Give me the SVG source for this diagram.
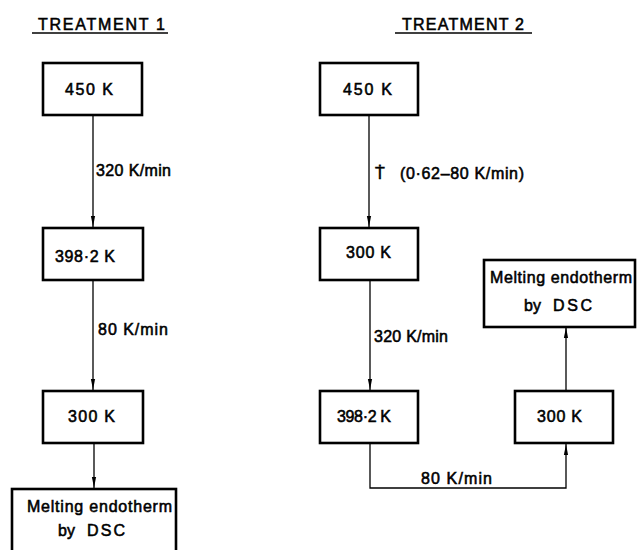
<svg xmlns="http://www.w3.org/2000/svg" width="637" height="550" viewBox="0 0 637 550">
<defs>
<style>
.box{fill:#fff;stroke:#000;stroke-width:2.6}
.ln{fill:none;stroke:#000;stroke-width:1.3}
.t{font-family:"Liberation Sans",Arial,sans-serif;font-size:16px;fill:#000;stroke:#000;stroke-width:0.55}
.u{stroke:#000;stroke-width:1.3}
</style>
<marker id="ah" markerWidth="12" markerHeight="6" refX="11" refY="3" orient="auto" markerUnits="userSpaceOnUse" viewBox="0 0 12 6">
<path d="M0,0.9 L11,3 L0,5.1 Z" fill="#000"/>
</marker>
</defs>
<rect width="637" height="550" fill="#fff"/>
<g id="titles">
<text class="t" x="38" y="30" textLength="127" lengthAdjust="spacing">TREATMENT 1</text>
<line class="u" x1="32" y1="33" x2="168" y2="33"/>
<text class="t" x="402" y="30" textLength="122" lengthAdjust="spacing">TREATMENT 2</text>
<line class="u" x1="395" y1="33" x2="532" y2="33"/>
</g>
<g id="connectors">
<line class="ln" x1="93" y1="115" x2="93" y2="227" marker-end="url(#ah)"/>
<line class="ln" x1="93" y1="280" x2="93" y2="390" marker-end="url(#ah)"/>
<line class="ln" x1="94" y1="443" x2="94" y2="488" marker-end="url(#ah)"/>
<line class="ln" x1="369" y1="115" x2="369" y2="227" marker-end="url(#ah)"/>
<line class="ln" x1="370" y1="280" x2="370" y2="390" marker-end="url(#ah)"/>
<polyline class="ln" points="370,443 370,488 566,488 566,444" marker-end="url(#ah)"/>
<line class="ln" x1="566" y1="391" x2="566" y2="327" marker-end="url(#ah)"/>
<text class="t" x="96" y="176" textLength="75" lengthAdjust="spacing">320 K/min</text>
<text class="t" x="98" y="335" textLength="70" lengthAdjust="spacing">80 K/min</text>
<text class="t" x="375" y="179">Ṫ</text>
<text class="t" x="400" y="179" textLength="124" lengthAdjust="spacing">(0·62–80 K/min)</text>
<text class="t" x="374" y="342" textLength="74" lengthAdjust="spacing">320 K/min</text>
<text class="t" x="421" y="484" textLength="71" lengthAdjust="spacing">80 K/min</text>
</g>
<g id="t1-450">
<rect class="box" x="43" y="63" width="99" height="52"/>
<text class="t" x="65" y="95" textLength="48" lengthAdjust="spacing">450 K</text>
</g>
<g id="t1-398">
<rect class="box" x="43" y="228" width="100" height="52"/>
<text class="t" x="55" y="262" textLength="60" lengthAdjust="spacing">398·2 K</text>
</g>
<g id="t1-300">
<rect class="box" x="43" y="391" width="100" height="52"/>
<text class="t" x="68" y="422" textLength="47" lengthAdjust="spacing">300 K</text>
</g>
<g id="t1-dsc">
<rect class="box" x="12" y="489" width="164" height="75"/>
<text class="t" x="27" y="512" textLength="145" lengthAdjust="spacing">Melting endotherm</text>
<text class="t" x="58" y="536">by</text>
<text class="t" x="87" y="536" textLength="38" lengthAdjust="spacing">DSC</text>
</g>
<g id="t2-450">
<rect class="box" x="320" y="63" width="98" height="52"/>
<text class="t" x="343" y="95" textLength="49" lengthAdjust="spacing">450 K</text>
</g>
<g id="t2-300a">
<rect class="box" x="320" y="228" width="98" height="52"/>
<text class="t" x="346" y="258" textLength="45" lengthAdjust="spacing">300 K</text>
</g>
<g id="t2-398">
<rect class="box" x="320" y="391" width="98" height="52"/>
<text class="t" x="337" y="422" textLength="54" lengthAdjust="spacing">398·2 K</text>
</g>
<g id="t2-300b">
<rect class="box" x="515" y="391" width="98" height="52"/>
<text class="t" x="537" y="422" textLength="45" lengthAdjust="spacing">300 K</text>
</g>
<g id="t2-dsc">
<rect class="box" x="484" y="260" width="151" height="67"/>
<text class="t" x="490" y="283" textLength="142" lengthAdjust="spacing">Melting endotherm</text>
<text class="t" x="524" y="311">by</text>
<text class="t" x="553" y="311" textLength="39" lengthAdjust="spacing">DSC</text>
</g>
</svg>
